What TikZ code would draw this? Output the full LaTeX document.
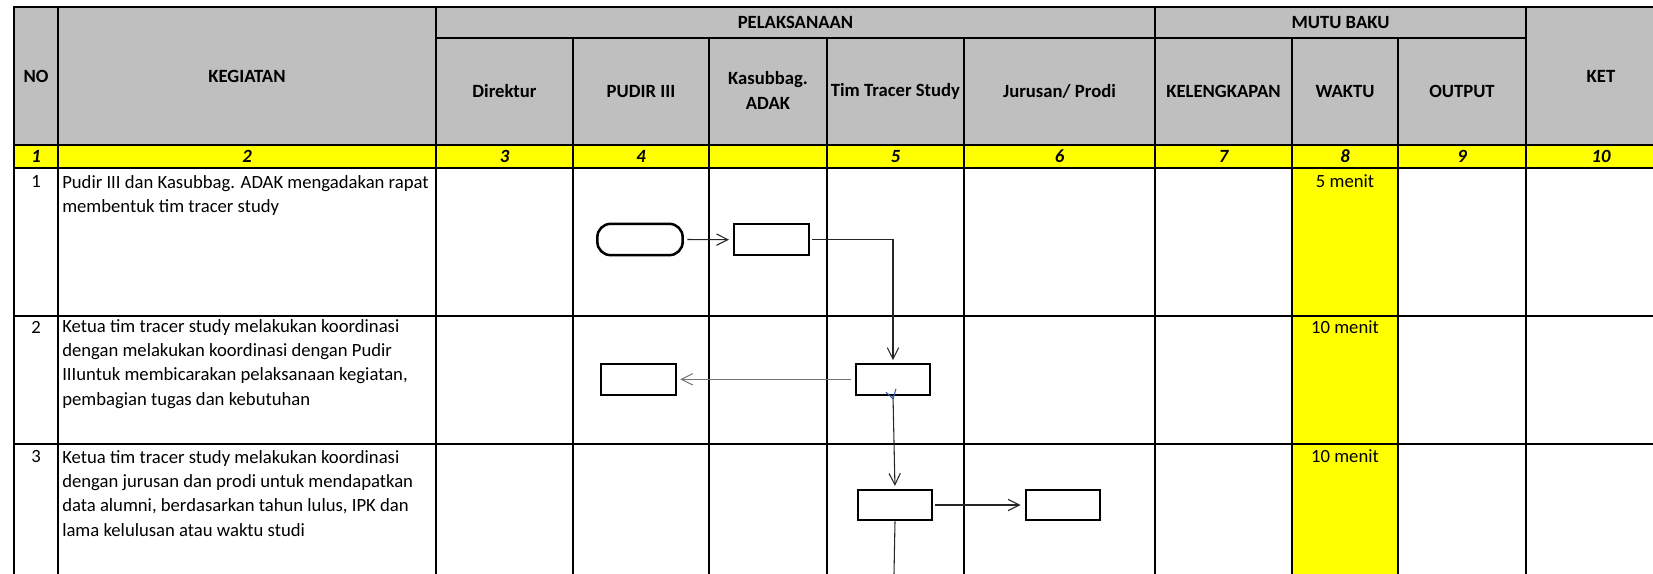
\documentclass[tikz,border=0pt]{standalone}
\usepackage{fontspec}
\setmainfont{Carlito}
\usepackage{tikz}
\usetikzlibrary{arrows.meta,calc}
\definecolor{hdrgray}{RGB}{191,191,191}
\definecolor{xlyellow}{RGB}{255,255,0}
\definecolor{selblue}{RGB}{46,96,170}
\def\cellfont{\fontsize{14pt}{18.2pt}\selectfont}
\tikzset{
	gridline/.style={line width=1.5pt, color=black, line cap=rect},
	hdrtext/.style={font=\cellfont\bfseries, align=center},
	numtext/.style={font=\cellfont\bfseries\itshape},
	bodytext/.style={font=\cellfont, align=left, anchor=north west, inner sep=0pt},
	flowbox/.style={draw, line width=1.7pt, minimum width=56pt, minimum height=23pt, inner sep=0pt},
	flowend/.style={flowbox, line width=1.9pt, rounded corners=10pt, minimum width=64pt, minimum height=23.5pt},
	flowline/.style={line width=0.8pt, color=black!85, -{Straight Barb[length=8.5pt,width=8.5pt]}},
}

\begin{document}
\begin{tikzpicture}[x=0.75pt, y=-0.75pt]
			%%%%% START %%%%%
			\useasboundingbox (0,0) rectangle (1653,574);
			
			\fill[hdrgray] (14,7) rectangle (1653,145);
			\fill[xlyellow] (14,145) rectangle (1653,168);
			\fill[xlyellow] (1292,168) rectangle (1398,574);
			
			% rows
			\draw[gridline] (14,7) -- (1653,7);
			\draw[gridline] (436,38) -- (1526,38);
			\draw[gridline] (14,145) -- (1653,145);
			\draw[gridline] (14,168) -- (1653,168);
			\draw[gridline] (14,316) -- (1653,316);
			\draw[gridline] (14,444) -- (1653,444);
			
			% columns
			\draw[gridline] (14,7) -- (14,574);
			\draw[gridline] (58,7) -- (58,574);
			\draw[gridline] (436,7) -- (436,574);
			\draw[gridline] (573,38) -- (573,574);
			\draw[gridline] (709,38) -- (709,574);
			\draw[gridline] (827,38) -- (827,574);
			\draw[gridline] (964,38) -- (964,574);
			\draw[gridline] (1155,7) -- (1155,574);
			\draw[gridline] (1292,38) -- (1292,574);
			\draw[gridline] (1398,38) -- (1398,574);
			\draw[gridline] (1526,7) -- (1526,574);
			
			% header
			\node[hdrtext] (hNo) at (36,76) {NO};
			\node[hdrtext] (hKegiatan) at (247,76) {KEGIATAN};
			\node[hdrtext] (hPelaksanaan) at (795.5,22.5) {PELAKSANAAN};
			\node[hdrtext] (hMutu) at (1340.5,22.5) {MUTU BAKU};
			\node[hdrtext] (hKet) at (1601,76) {KET};
			\node[hdrtext] (hDirektur) at (504.5,91.5) {Direktur};
			\node[hdrtext] (hPudir) at (641,91.5) {PUDIR III};
			\node[hdrtext] (hKasubbag) at (768,90.5) {Kasubbag.\\ADAK};
			\node[hdrtext] (hTim) at (895.5,91.5) {Tim Tracer Study};
			\node[hdrtext] (hJurusan) at (1059.5,91.5) {Jurusan/ Prodi};
			\node[hdrtext] (hKelengkapan) at (1223.5,91.5) {KELENGKAPAN};
			\node[hdrtext] (hWaktu) at (1345,91.5) {WAKTU};
			\node[hdrtext] (hOutput) at (1462,91.5) {OUTPUT};
			
			\foreach \x/\n in {36/1, 247/2, 504.5/3, 641/4, 895.5/5, 1059.5/6, 1223.5/7, 1345/8, 1462/9, 1601/10}
				\node[numtext] (num\n) at (\x,156.5) {\n};
			
			% rows 1-3
			\node[font=\cellfont, anchor=base] (no1) at (36,187.7) {1};
			\node[font=\cellfont, anchor=base] (no2) at (36,333) {2};
			\node[font=\cellfont, anchor=base] (no3) at (36,462.7) {3};
			
			\node[bodytext] (keg1) at (62,175) {Pudir III dan Kasubbag. ADAK mengadakan rapat\\membentuk tim tracer study};
			\node[bodytext] (keg2) at (62,319) {Ketua tim tracer study melakukan koordinasi\\dengan melakukan koordinasi dengan Pudir\\IIIuntuk membicarakan pelaksanaan kegiatan,\\pembagian tugas dan kebutuhan};
			\node[bodytext] (keg3) at (62,450) {Ketua tim tracer study melakukan koordinasi\\dengan jurusan dan prodi untuk mendapatkan\\data alumni, berdasarkan tahun lulus, IPK dan\\lama kelulusan atau waktu studi};
			
			\node[font=\cellfont, anchor=base] (waktu1) at (1345,187.7) {5 menit};
			\node[font=\cellfont, anchor=base] (waktu2) at (1345,333) {10 menit};
			\node[font=\cellfont, anchor=base] (waktu3) at (1345,462.7) {10 menit};
			
			% flow
			\node[flowend] (mulai) at (640,239.5) {};
			\node[flowbox] (rapat) at (771.5,239.7) {};
			\node[flowbox] (koordPudir) at (893,379.3) {};
			\node[flowbox] (pudir) at (638.4,379.3) {};
			\node[flowbox] (koordJur) at (895,505) {};
			\node[flowbox] (jurusan) at (1063,505) {};
			\coordinate (lanjut) at (894,574);
			
			\draw[flowline, shorten <=2.5pt, shorten >=3pt] (mulai.east) -- (rapat.west);
			\draw[flowline, shorten <=1.5pt, shorten >=2pt] (rapat.east) -| (koordPudir.north);
			\draw[flowline, color=black!55, shorten <=2.5pt, shorten >=2.5pt] (koordPudir.west) -- (pudir.east);
			\draw[flowline, shorten >=2pt] (koordPudir.south) -- (koordJur.north);
			\draw[flowline, shorten <=1pt, shorten >=3pt] (koordJur.east) -- (jurusan.west);
			\draw[line width=0.8pt, color=black!85] (koordJur.south) -- (lanjut);
			\draw[line width=0.8pt, color=selblue] ($(koordPudir.south)+(-7,-3.5)$) -- ($(koordPudir.south)+(0,3)$) -- ($(koordPudir.south)+(3,-7)$);
			
			%%%%% END %%%%%
\end{tikzpicture}
\end{document}
